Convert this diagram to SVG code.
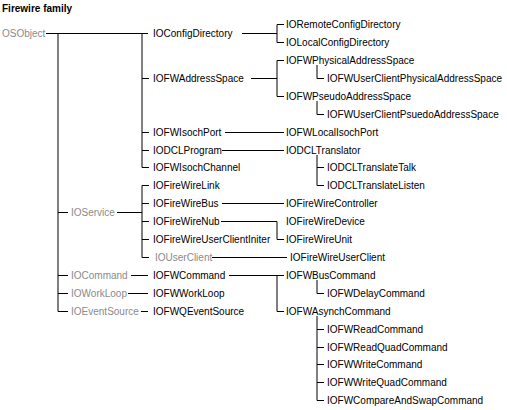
<svg xmlns="http://www.w3.org/2000/svg" width="507" height="410" viewBox="0 0 507 410">
<style>
text{font-family:"Liberation Sans",Arial,Helvetica,sans-serif;font-size:10px;fill:#000}
.g{fill:#8a8a8a}
.t{font-weight:bold}
#connectors path{fill:none;stroke:#000;stroke-width:1}
</style>
<rect width="507" height="410" fill="#fff"/>
<text class="t" x="2" y="12">Firewire family</text>
<g id="connectors">
<path d="M46 33.5H148M58 33.5V311.5H68M58 212.5H68M58 275.5H68M58 293.5H68"/>
<path d="M142 33.5V167.5H149M142 78.5H149M142 132.5H149M142 150.5H149"/>
<path d="M242 33.5H277M277 24.5V42.5M277 24.5H284M277 42.5H284"/>
<path d="M251 78.5H277M277 60.5V96.5M277 60.5H284M277 96.5H284"/>
<path d="M317 65V78.5H324M317 101V114.5H324"/>
<path d="M225 132.5H284M222 150.5H284M317 155V185.5H324M317 167.5H324"/>
<path d="M117 212.5H142M142 185.5V257.5H149M142 185.5H149M142 203.5H149M142 221.5H149M142 239.5H149"/>
<path d="M222 203.5H284M221 221.5H277M277 221.5V239.5H284"/>
<path d="M212 257.5H287"/>
<path d="M131 275.5H148M128 293.5H148M141 311.5H148"/>
<path d="M229 275.5H284M277 275.5V311.5H284M317 280V293.5H324M317 316V400.5H324M317 329.5H324M317 347.5H324M317 364.5H324M317 382.5H324"/>
</g>
<g id="OSObject"><text class="g" x="2" y="37">OSObject</text></g>
<g id="IOConfigDirectory"><text x="153" y="37">IOConfigDirectory</text></g>
<g id="IORemoteConfigDirectory"><text x="286" y="28">IORemoteConfigDirectory</text></g>
<g id="IOLocalConfigDirectory"><text x="286" y="46">IOLocalConfigDirectory</text></g>
<g id="IOFWAddressSpace"><text x="153" y="82">IOFWAddressSpace</text></g>
<g id="IOFWPhysicalAddressSpace"><text x="286" y="64">IOFWPhysicalAddressSpace</text></g>
<g id="IOFWUserClientPhysicalAddressSpace"><text x="327" y="82">IOFWUserClientPhysicalAddressSpace</text></g>
<g id="IOFWPseudoAddressSpace"><text x="286" y="100">IOFWPseudoAddressSpace</text></g>
<g id="IOFWUserClientPsuedoAddressSpace"><text x="327" y="118">IOFWUserClientPsuedoAddressSpace</text></g>
<g id="IOFWIsochPort"><text x="153" y="136">IOFWIsochPort</text></g>
<g id="IOFWLocalIsochPort"><text x="286" y="136">IOFWLocalIsochPort</text></g>
<g id="IODCLProgram"><text x="153" y="154">IODCLProgram</text></g>
<g id="IODCLTranslator"><text x="286" y="154">IODCLTranslator</text></g>
<g id="IODCLTranslateTalk"><text x="327" y="171">IODCLTranslateTalk</text></g>
<g id="IODCLTranslateListen"><text x="327" y="189">IODCLTranslateListen</text></g>
<g id="IOFWIsochChannel"><text x="153" y="171">IOFWIsochChannel</text></g>
<g id="IOService"><text class="g" x="71" y="216">IOService</text></g>
<g id="IOFireWireLink"><text x="153" y="189">IOFireWireLink</text></g>
<g id="IOFireWireBus"><text x="153" y="207">IOFireWireBus</text></g>
<g id="IOFireWireController"><text x="286" y="207">IOFireWireController</text></g>
<g id="IOFireWireNub"><text x="153" y="225">IOFireWireNub</text></g>
<g id="IOFireWireDevice"><text x="286" y="225">IOFireWireDevice</text></g>
<g id="IOFireWireUnit"><text x="286" y="243">IOFireWireUnit</text></g>
<g id="IOFireWireUserClientIniter"><text x="153" y="243">IOFireWireUserClientIniter</text></g>
<g id="IOUserClient"><text class="g" x="155" y="261">IOUserClient</text></g>
<g id="IOFireWireUserClient"><text x="290" y="261">IOFireWireUserClient</text></g>
<g id="IOCommand"><text class="g" x="71" y="279">IOCommand</text></g>
<g id="IOFWCommand"><text x="153" y="279">IOFWCommand</text></g>
<g id="IOFWBusCommand"><text x="286" y="279">IOFWBusCommand</text></g>
<g id="IOFWDelayCommand"><text x="327" y="297">IOFWDelayCommand</text></g>
<g id="IOFWAsynchCommand"><text x="286" y="315">IOFWAsynchCommand</text></g>
<g id="IOFWReadCommand"><text x="327" y="333">IOFWReadCommand</text></g>
<g id="IOFWReadQuadCommand"><text x="327" y="351">IOFWReadQuadCommand</text></g>
<g id="IOFWWriteCommand"><text x="327" y="368">IOFWWriteCommand</text></g>
<g id="IOFWWriteQuadCommand"><text x="327" y="386">IOFWWriteQuadCommand</text></g>
<g id="IOFWCompareAndSwapCommand"><text x="327" y="404">IOFWCompareAndSwapCommand</text></g>
<g id="IOWorkLoop"><text class="g" x="71" y="297">IOWorkLoop</text></g>
<g id="IOFWWorkLoop"><text x="153" y="297">IOFWWorkLoop</text></g>
<g id="IOEventSource"><text class="g" x="71" y="315">IOEventSource</text></g>
<g id="IOFWQEventSource"><text x="153" y="315">IOFWQEventSource</text></g>
</svg>
